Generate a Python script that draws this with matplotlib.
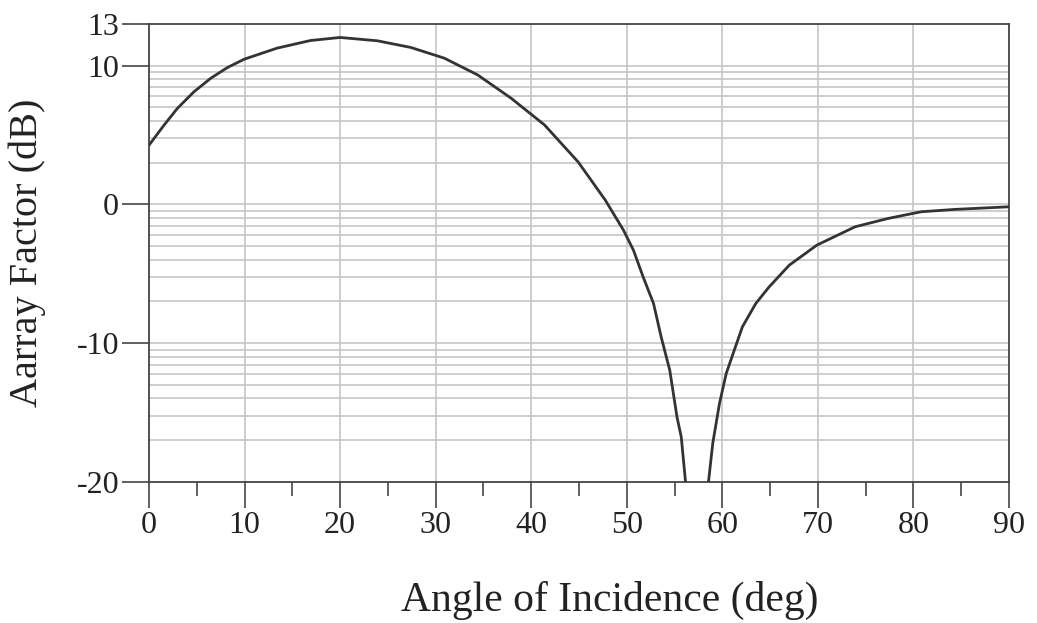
import numpy as np
import matplotlib
matplotlib.use("Agg")
import matplotlib.pyplot as plt
from matplotlib.ticker import MultipleLocator, FixedLocator

# Data
angle_deg = [0.0, 1.57, 2.97, 4.71, 6.46, 8.2, 9.95, 13.4, 16.9, 20.0, 23.9, 27.4,
             30.9, 34.4, 37.9, 41.4, 44.9, 46.4, 47.75, 49.65, 50.7, 51.7, 52.8,
             53.6, 54.5, 55.25, 55.7, 56.15, 57.35, 58.55, 59.0, 59.7, 60.4, 61.25,
             62.1, 63.5, 64.9, 67.0, 69.9, 73.9, 77.35, 80.8, 84.3, 90.0]
array_factor_db = [4.27, 5.71, 6.92, 8.12, 9.09, 9.86, 10.46, 11.26, 11.81, 12.03, 11.79,
                   11.31, 10.54, 9.33, 7.65, 5.72, 3.07, 1.62, 0.31, -1.85, -3.3, -5.2,
                   -7.14, -9.55, -11.95, -15.3, -16.75, -20.0, -35.0, -20.0, -17.2,
                   -14.35, -12.2, -10.5, -8.82, -7.14, -5.94, -4.38, -2.93, -1.61,
                   -1.01, -0.53, -0.36, -0.17]
x_major_ticks = [0, 10, 20, 30, 40, 50, 60, 70, 80, 90]
y_major_ticks = [-20, -10, 0, 10, 13]
y_tick_labels = ["-20", "-10", "0", "10", "13"]
decade_starts = [-20, -10, 0]

plt.rcParams['font.family'] = ['Liberation Serif', 'DejaVu Serif']

fig = plt.figure(figsize=(10.37, 6.23), dpi=100)
ax = fig.add_axes([149/1037, 1 - 482/623, (1009-149)/1037, (482-24)/623])

grid_c = '#c6c6c6'
# vertical grid
for xv in x_major_ticks[1:-1]:
    ax.axvline(xv, color=grid_c, lw=1.2, zorder=1)
# horizontal grid: majors and log-style minors
for yv in [-10, 0, 10]:
    ax.axhline(yv, color=grid_c, lw=1.2, zorder=1)
for d in decade_starts:
    for k in range(2, 10):
        ax.axhline(d + 10*np.log10(k), color=grid_c, lw=1.2, zorder=1)

ax.plot(angle_deg, array_factor_db, color='#333333', lw=2.0, zorder=3, clip_on=True,
        solid_joinstyle='round')

ax.set_xlim(0, 90)
ax.set_ylim(-20, 13)

ax.xaxis.set_major_locator(FixedLocator(x_major_ticks))
ax.xaxis.set_minor_locator(MultipleLocator(5))
ax.yaxis.set_major_locator(FixedLocator(y_major_ticks))
ax.set_yticklabels(y_tick_labels)

ax.tick_params(axis='x', which='major', direction='out', length=19, width=1.2,
               colors='#444444', labelcolor='#222222', labelsize=23, pad=2)
ax.tick_params(axis='x', which='minor', direction='out', length=10, width=1.2,
               colors='#444444')
ax.tick_params(axis='y', which='major', direction='out', length=19.5, width=1.2,
               colors='#444444', labelcolor='#222222', labelsize=23, pad=2)

for s in ax.spines.values():
    s.set_color('#444444')
    s.set_linewidth(1.3)

fig.text(610/1037, 1 - 600/623, 'Angle of Incidence (deg)', fontsize=30,
         color='#222222', ha='center', va='center')
fig.text(27/1037, 1 - 253/623, 'Aarray Factor (dB)', fontsize=29,
         color='#222222', ha='center', va='center', rotation=90)

fig.savefig('out.png', dpi=100)
